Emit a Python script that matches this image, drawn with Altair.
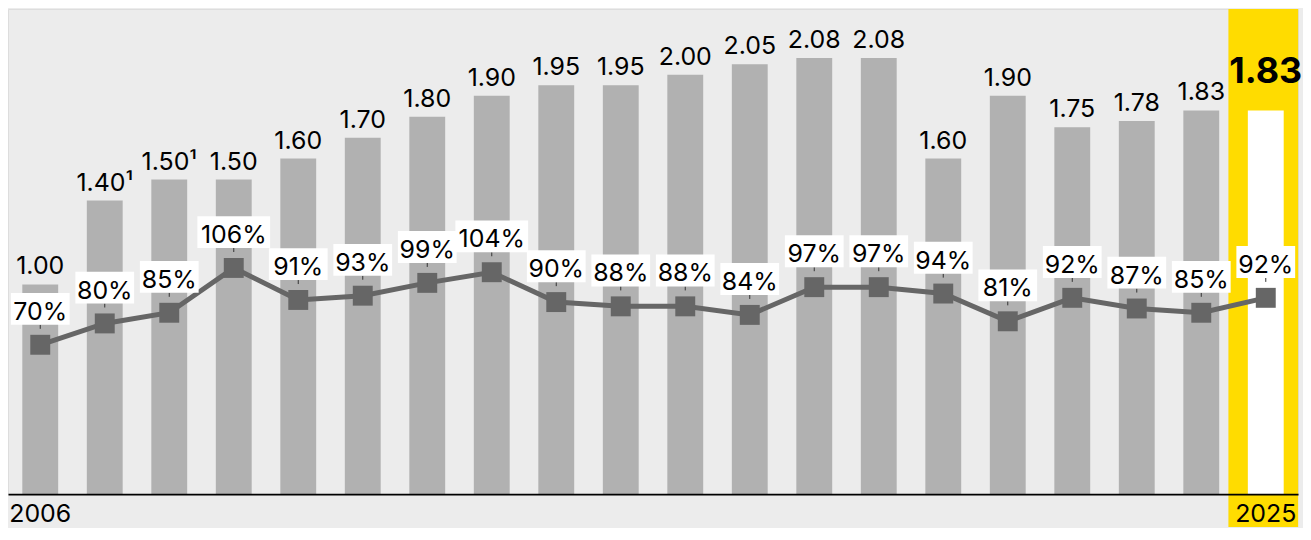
import altair as alt
import pandas as pd

years = list(range(2006, 2026))
dividend = [1.00, 1.40, 1.50, 1.50, 1.60, 1.70, 1.80, 1.90, 1.95, 1.95,
            2.00, 2.05, 2.08, 2.08, 1.60, 1.90, 1.75, 1.78, 1.83, 1.83]
dividend_labels = ["1.00", "1.40¹", "1.50¹", "1.50", "1.60", "1.70", "1.80", "1.90", "1.95", "1.95",
                   "2.00", "2.05", "2.08", "2.08", "1.60", "1.90", "1.75", "1.78", "1.83", "1.83"]
payout = [70, 80, 85, 106, 91, 93, 99, 104, 90, 88,
          88, 84, 97, 97, 94, 81, 92, 87, 85, 92]
payout_labels = [f"{p}%" for p in payout]
highlight_year = 2025
shown_years = [2006, 2025]

df = pd.DataFrame({
    "year": years,
    "div": dividend,
    "div_label": dividend_labels,
    "pct": payout,
    "pct_label": payout_labels,
})

FONT = "Inter"
BAR_GREY = "#b1b1b1"
LINE_GREY = "#666666"
YELLOW = "#FFDC00"

W = 1295
H = 487

x_enc = alt.X(
    "year:O",
    scale=alt.Scale(paddingInner=0, paddingOuter=0),
    axis=alt.Axis(
        title=None,
        labelAngle=0,
        labelExpr=" || ".join(f"datum.value == {y}" for y in shown_years) + " ? datum.label : ''",
        labelFontSize=25,
        labelColor="#000000",
        labelFont=FONT,
        labelPadding=7,
        labelOverlap=False,
        labelBound=False,
        ticks=False,
        domainColor="#000000",
        domainWidth=2,
        grid=False,
        zindex=1,
    ),
)

ybar = alt.Scale(domain=[0, H / 210.5], nice=False, zero=True)
ypct = alt.Scale(domain=[0, H / 2.142], nice=False, zero=True)

base = alt.Chart(df).encode(x=x_enc)
is_cur = f"datum.year == {highlight_year}"
not_cur = f"datum.year != {highlight_year}"

band = base.transform_filter(is_cur).mark_bar(width=70, xOffset=-2.5, color=YELLOW).encode(
    y=alt.value(0), y2=alt.value(H + 33)
)

bars = base.mark_bar(width=36).encode(
    y=alt.Y("div:Q", scale=ybar, axis=None),
    color=alt.condition(is_cur, alt.value("#ffffff"), alt.value(BAR_GREY)),
)

bar_text = base.transform_filter(not_cur).mark_text(
    fontSize=25, font=FONT, dy=-10, baseline="alphabetic", color="#000000"
).encode(
    y=alt.Y("div:Q", scale=ybar, axis=None),
    text="div_label:N",
)

cur_text = base.transform_filter(is_cur).mark_text(
    fontSize=36, font=FONT, fontWeight="bold", dy=-27, baseline="alphabetic", color="#000000"
).encode(
    y=alt.Y("div:Q", scale=ybar, axis=None),
    text="div_label:N",
)

line = base.mark_line(color=LINE_GREY, strokeWidth=5).encode(
    y=alt.Y("pct:Q", scale=ypct, axis=None)
)

markers = base.mark_point(shape="square", size=400, filled=True, color=LINE_GREY, opacity=1).encode(
    y=alt.Y("pct:Q", scale=ypct, axis=None)
)

ticks = base.mark_rule(color="#333333", strokeWidth=1, yOffset=-20, y2Offset=-16).encode(
    y=alt.Y("pct:Q", scale=ypct, axis=None),
    y2="pct:Q",
)

boxes_narrow = base.transform_filter("datum.pct < 100").mark_bar(
    width=59, color="#ffffff", yOffset=-20, y2Offset=-52
).encode(
    y=alt.Y("pct:Q", scale=ypct, axis=None),
    y2="pct:Q",
)

boxes_wide = base.transform_filter("datum.pct >= 100").mark_bar(
    width=73, color="#ffffff", yOffset=-20, y2Offset=-52
).encode(
    y=alt.Y("pct:Q", scale=ypct, axis=None),
    y2="pct:Q",
)

pct_text = base.mark_text(
    fontSize=25, font=FONT, dy=-25, baseline="alphabetic", color="#000000"
).encode(
    y=alt.Y("pct:Q", scale=ypct, axis=None),
    text="pct_label:N",
)

chart = alt.layer(
    band, bars, bar_text, cur_text, line, markers, ticks, boxes_narrow, boxes_wide, pct_text
).resolve_scale(y="independent").properties(
    width=W, height=H, padding=0, background="#ececec"
).configure_view(stroke=None).configure(font=FONT)

chart.save("out.html", embed_options={"renderer": "svg", "actions": False})
